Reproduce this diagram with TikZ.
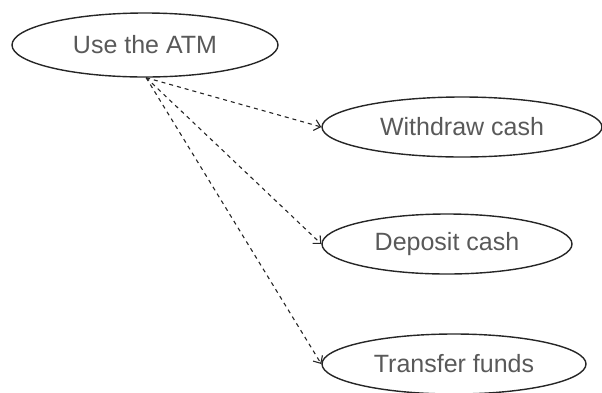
\documentclass[tikz,border=0pt]{standalone}
\usepackage{fontspec}
\setmainfont{Liberation Sans}
\usetikzlibrary{shapes.geometric,arrows.meta}

\tikzset{
  usecase/.style={ellipse, draw=black!85, line width=1.4pt, inner sep=0pt,
    font=\fontsize{25}{25}\selectfont, text=black!65},
  uses/.style={draw=black!85, line width=1.1pt, dash pattern=on 4pt off 4pt,
    -{Straight Barb[length=6pt,width=11pt,line width=1.1pt]}},
}

\begin{document}
\begin{tikzpicture}[x=1pt,y=-1pt]
  \useasboundingbox (0,0) rectangle (602,392);

  % use cases
  \node[usecase, minimum width=266pt, minimum height=64pt] (atm) at (145,45) {Use the ATM};
  \node[usecase, minimum width=280pt, minimum height=60pt] (withdraw) at (462,127) {Withdraw cash};
  \node[usecase, minimum width=250pt, minimum height=60pt] (deposit) at (447,244) {Deposit cash};
  \node[usecase, minimum width=264pt, minimum height=60pt] (transfer) at (454,364) {Transfer funds};

  % common start point below the main use case
  \coordinate (src) at (atm.272);

  % dependencies
  \draw[uses] (src) -- (withdraw.west);
  \draw[uses] (src) -- (deposit.west);
  \draw[uses] (src) -- (transfer.west);
\end{tikzpicture}
\end{document}
